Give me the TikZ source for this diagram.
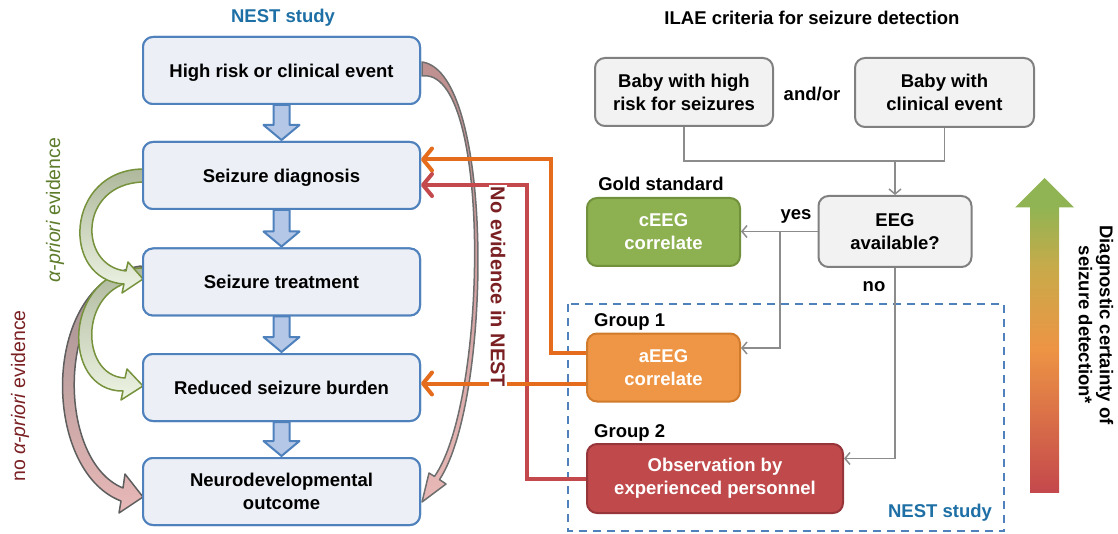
\documentclass[tikz,border=0pt]{standalone}
\usepackage{fontspec}
\setmainfont{Liberation Sans}
\usetikzlibrary{arrows.meta,calc}
\definecolor{boxblue}{HTML}{4F81BD}
\definecolor{boxfill}{HTML}{ECF0F6}
\definecolor{arrfill}{HTML}{B4C7E6}
\definecolor{nestblue}{HTML}{1D6FA5}
\definecolor{grstroke}{HTML}{808080}
\definecolor{grfill}{HTML}{F2F2F2}
\definecolor{conngray}{HTML}{8C8C8C}
\definecolor{cgreen}{HTML}{8DB050}
\definecolor{cgreenS}{HTML}{71913D}
\definecolor{aorange}{HTML}{EF9646}
\definecolor{aorangeS}{HTML}{D07A2C}
\definecolor{ored}{HTML}{C0494B}
\definecolor{oredS}{HTML}{96363A}
\definecolor{lorange}{HTML}{E46C1C}
\definecolor{lred}{HTML}{C3494C}
\definecolor{darkred}{HTML}{7A2023}
\definecolor{txtgreen}{HTML}{5E7D2C}
\definecolor{gstroke}{HTML}{76923C}
\definecolor{gtop}{HTML}{AEB89C}
\definecolor{gbot}{HTML}{EEF4E4}
\definecolor{ptop}{HTML}{A09090}
\definecolor{pbot}{HTML}{E8B8B7}
\definecolor{pstroke}{HTML}{5E5E5E}
\definecolor{rtop}{HTML}{BF9090}
\definecolor{gradG}{HTML}{90B453}
\definecolor{gradY}{HTML}{C9AA4A}
\definecolor{gradO}{HTML}{ED9444}
\definecolor{gradR}{HTML}{C4484C}
\pgfdeclareverticalshading{certainty}{100bp}{color(0bp)=(gradR); color(25bp)=(gradR); color(50bp)=(gradO); color(64bp)=(gradY); color(75bp)=(gradG); color(100bp)=(gradG)}
\newcommand\blockarr[2]{\draw[barrow] ($(#1.south)+(-8,0)$) -- ($(#2.north)+(-8,-16)$) -- ($(#2.north)+(-18,-16)$) -- ($(#2.north)+(0,-1)$) -- ($(#2.north)+(18,-16)$) -- ($(#2.north)+(8,-16)$) -- ($(#1.south)+(8,0)$) -- cycle;}
\begin{document}
\begin{tikzpicture}[x=1pt,y=-1pt,
  font=\fontsize{18.5pt}{23pt}\selectfont\bfseries,
  lbox/.style={draw=boxblue, fill=boxfill, line width=2pt, rounded corners=10pt, minimum width=277pt, minimum height=67pt, align=center, inner sep=0pt},
  oneline/.style={text height=13.5pt, text depth=0pt},
  gbox/.style={draw=grstroke, fill=grfill, line width=2pt, rounded corners=10pt, align=center, inner sep=0pt},
  cbox/.style={line width=2pt, rounded corners=10pt, align=center, text=white, inner sep=0pt},
  barrow/.style={draw=boxblue, fill=arrfill, line width=2pt, line join=round},
  conn/.style={draw=conngray, line width=1.5pt, -{Straight Barb[length=5pt,width=12pt]}},
  gline/.style={draw=conngray, line width=1.5pt},
  oline/.style={draw=lorange, line width=4pt, -{Straight Barb[round,length=9pt,width=22pt]}},
  rline/.style={draw=lred, line width=4pt, -{Straight Barb[round,length=9pt,width=22pt]}},
  garrow/.style={draw=gstroke, line width=1.5pt, top color=gtop, bottom color=gbot, line join=round},
  parrow/.style={draw=pstroke, line width=1.5pt, top color=ptop, bottom color=pbot, line join=round},
  lbl/.style={inner sep=1pt},
  sidetxt/.style={font=\fontsize{19.5pt}{22pt}\selectfont\mdseries, rotate=90, inner sep=1pt}
]
\useasboundingbox (0,0) rectangle (1118,534);

% curved evidence arrows (left)
\path[parrow] (141,266) .. controls (40,280) and (40,470) .. (121,501) -- (119,513) -- (143,497) -- (125,474) -- (123,488) .. controls (54,460) and (56,285) .. (143,272) -- cycle;
\path[garrow] (143,268) .. controls (62,270) and (60,392) .. (123,391) -- (121,400) -- (143,386) -- (127,369) -- (125,378) .. controls (78,376) and (78,282) .. (143,280) -- cycle;
\path[garrow] (143,169) .. controls (65,170) and (60,280) .. (124,284) -- (122,293) -- (143,279) -- (128,262) -- (126,271) .. controls (78,266) and (78,184) .. (143,182) -- cycle;
% right curved arrow
\path[parrow, draw=pstroke!90, top color=rtop] (422,62) .. controls (495,72) and (492,400) .. (439.5,479.6) -- (446,484) -- (422,502) -- (429,473) -- (434.5,476.4) .. controls (488,400) and (492,66) .. (422,76) -- cycle;

% left column
\node[lbl, text=nestblue] (nest1) at (283,18) {NEST study};
\coordinate (c1) at (281.5,70.5);
\coordinate (c2) at (281.5,175.5);
\coordinate (c3) at (281.5,282);
\coordinate (c4) at (281.5,387.5);
\coordinate (c5) at (281.5,491.5);
\path (c1) node[lbox, oneline] (b1) {High risk or clinical event}
      (c2) node[lbox, oneline] (b2) {Seizure diagnosis}
      (c3) node[lbox, oneline] (b3) {Seizure treatment}
      (c4) node[lbox, oneline] (b4) {Reduced seizure burden}
      (c5) node[lbox] (b5) {Neurodevelopmental\\outcome};
\blockarr{b1}{b2}
\blockarr{b2}{b3}
\blockarr{b3}{b4}
\blockarr{b4}{b5}
\path (c1) node[lbox, oneline] {High risk or clinical event}
      (c2) node[lbox, oneline] {Seizure diagnosis}
      (c3) node[lbox, oneline] {Seizure treatment}
      (c4) node[lbox, oneline] {Reduced seizure burden}
      (c5) node[lbox] {Neurodevelopmental\\outcome};

\node[sidetxt, text=txtgreen] (apri) at (55,210) {{\itshape α-priori} evidence};
\node[sidetxt, text=darkred] (noapri) at (20,396) {no {\itshape α-priori} evidence};

% right part
\node[lbl] (ilae) at (812,18) {ILAE criteria for seizure detection};
\node[gbox, minimum width=178pt, minimum height=68pt] (r1) at (684,92) {Baby with high\\risk for seizures};
\node[gbox, minimum width=179pt, minimum height=69pt] (r2) at (944.5,92.5) {Baby with\\clinical event};
\node[lbl] (andor) at (812,94) {and/or};
\node[gbox, minimum width=153pt, minimum height=71pt] (eeg) at (895,231.5) {EEG\\available?};
\node[cbox, draw=cgreenS, fill=cgreen, minimum width=153pt, minimum height=68pt] (ceeg) at (663.5,232) {cEEG\\correlate};
\node[lbl] (gold) at (661,184) {Gold standard};
\node[lbl] (yes) at (796,216) {yes};
\node[lbl] (no) at (874,287) {no};

\draw[draw=boxblue, line width=2pt, dash pattern=on 8pt off 6pt] (567.5,304) rectangle (1004,531);

\node[cbox, draw=aorangeS, fill=aorange, minimum width=153pt, minimum height=68pt] (aeeg) at (663.5,367.5) {aEEG\\correlate};
\node[cbox, draw=oredS, fill=ored, minimum width=256pt, minimum height=69pt] (obs) at (715,478.5) {Observation by\\experienced personnel};
\node[lbl, anchor=west] (g1) at (593,322) {Group 1};
\node[lbl, anchor=west] (g2) at (593,433) {Group 2};
\node[lbl, text=nestblue] (nest2) at (940,513) {NEST study};

% gray connectors
\coordinate (jn) at (eeg.north |- 0,161);
\draw[gline] (r1.south) -- (r1.south |- jn) -- (r2.south |- jn) -- (r2.south);
\draw[conn] (jn) -- (eeg.north);
\draw[conn] (eeg.west) -- (ceeg.east |- eeg.west);
\coordinate (yj) at (eeg.west -| 780,0);
\draw[conn] (yj) |- ($(aeeg.east)+(0,-19.5)$);
\draw[conn] (eeg.south) |- ($(obs.east)+(0,-20)$);

% orange and red evidence lines
\draw[oline] ($(aeeg.west)+(0,-15)$) -- ++(-35,0) |- ($(b2.east)+(0,-16)$);
\draw[rline] (obs.west) -- ++(-59,0) |- ($(b2.east)+(0,9.5)$);
\coordinate (o2) at ($(aeeg.west)+(0,16)$);
\draw[oline] (o2) -- (b4.east |- o2);
\node[rotate=-90, fill=white, inner sep=2pt, text=darkred, font=\fontsize{20pt}{22pt}\selectfont\bfseries] (noev) at (498,287) {No evidence in NEST};

% diagnostic certainty gradient arrow
\shade[shading=certainty] (1030,206) rectangle (1059,492);
\fill[gradG] (1015,207.5) -- (1044.5,178) -- (1074,207.5) -- cycle;
\node[rotate=-90, align=center, inner sep=0pt, font=\fontsize{18.5pt}{21pt}\selectfont\bfseries] (diag) at (1096,325) {Diagnostic certainty of\\seizure detection*};
\end{tikzpicture}
\end{document}
